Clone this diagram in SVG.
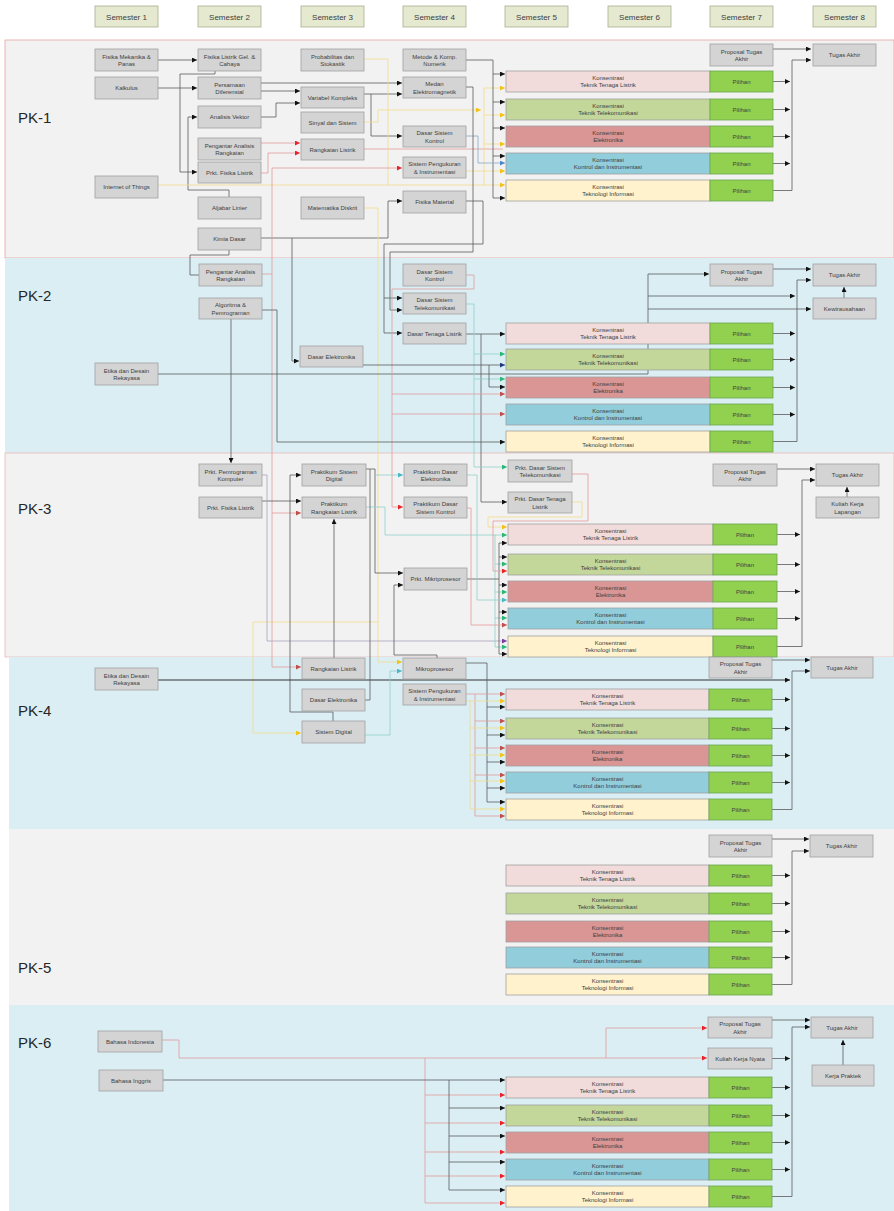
<svg xmlns="http://www.w3.org/2000/svg" width="894" height="1211" viewBox="0 0 894 1211">
<defs>
<style>
.bg{fill:#f2f2f2}
.bb{fill:#daeef3}
.hd rect{fill:#e4e9d0;stroke:#a7ae8c;stroke-width:0.8}
.hd text{font-family:"Liberation Sans",Arial,sans-serif;font-size:8px;fill:#404040;text-anchor:middle}
.n rect{fill:#d4d4d4;stroke:#a0a0a0;stroke-width:0.8}
.n text,.k text{font-family:"Liberation Sans",Arial,sans-serif;font-size:6px;fill:#404040;text-anchor:middle}
.k rect{stroke:#a0a0a0;stroke-width:0.8}
.k rect.p{fill:#92d050;stroke:#6aa84f}
.tl{fill:#f2dcdb}.tk{fill:#c4d79b}.el{fill:#da9694}.ki{fill:#92cddc}.ti{fill:#fff2cc}
.pk{font-family:"Liberation Sans",Arial,sans-serif;font-size:15px;fill:#262626}
.w{fill:none;stroke:#5a5a5a;stroke-width:0.8}
.wd{fill:none;stroke:#333;stroke-width:1}
.wr{fill:none;stroke:#e49a9a;stroke-width:0.8}
.wy{fill:none;stroke:#f3dc8a;stroke-width:0.8}
.wt{fill:none;stroke:#8fd0cc;stroke-width:0.8}
.wp{fill:none;stroke:#a9a2c0;stroke-width:0.8}
.wb{fill:none;stroke:#8aa6c8;stroke-width:0.8}
</style>
<marker id="ab" viewBox="0 0 10 10" refX="10" refY="5" markerWidth="5" markerHeight="5" markerUnits="userSpaceOnUse" orient="auto"><path d="M0,0L10,5L0,10z" fill="#111"/></marker>
<marker id="ar" viewBox="0 0 10 10" refX="10" refY="5" markerWidth="5" markerHeight="5" markerUnits="userSpaceOnUse" orient="auto"><path d="M0,0L10,5L0,10z" fill="#e8242a"/></marker>
<marker id="ard" viewBox="0 0 10 10" refX="10" refY="5" markerWidth="5" markerHeight="5" markerUnits="userSpaceOnUse" orient="auto"><path d="M0,0L10,5L0,10z" fill="#c0504d"/></marker>
<marker id="ay" viewBox="0 0 10 10" refX="10" refY="5" markerWidth="5" markerHeight="5" markerUnits="userSpaceOnUse" orient="auto"><path d="M0,0L10,5L0,10z" fill="#f2c21b"/></marker>
<marker id="ag" viewBox="0 0 10 10" refX="10" refY="5" markerWidth="5" markerHeight="5" markerUnits="userSpaceOnUse" orient="auto"><path d="M0,0L10,5L0,10z" fill="#2bb673"/></marker>
<marker id="at" viewBox="0 0 10 10" refX="10" refY="5" markerWidth="5" markerHeight="5" markerUnits="userSpaceOnUse" orient="auto"><path d="M0,0L10,5L0,10z" fill="#4bb8c8"/></marker>
<marker id="abl" viewBox="0 0 10 10" refX="10" refY="5" markerWidth="5" markerHeight="5" markerUnits="userSpaceOnUse" orient="auto"><path d="M0,0L10,5L0,10z" fill="#4a86c8"/></marker>
<marker id="an" viewBox="0 0 10 10" refX="10" refY="5" markerWidth="5" markerHeight="5" markerUnits="userSpaceOnUse" orient="auto"><path d="M0,0L10,5L0,10z" fill="#1f3a80"/></marker>
<marker id="ap" viewBox="0 0 10 10" refX="10" refY="5" markerWidth="5" markerHeight="5" markerUnits="userSpaceOnUse" orient="auto"><path d="M0,0L10,5L0,10z" fill="#7a3ea0"/></marker>
</defs>
<rect width="894" height="1211" fill="#ffffff"/>
<g id="bands">
<rect class="bg" x="5" y="40" width="889" height="218" stroke="#e8a3a3" stroke-width="0.8"/>
<rect class="bb" x="5" y="258" width="889" height="195"/>
<rect class="bg" x="5" y="453" width="889" height="204" stroke="#e8b8b8" stroke-width="0.8"/>
<rect class="bb" x="9" y="657" width="885" height="172"/>
<rect class="bg" x="9" y="829" width="885" height="176"/>
<rect class="bb" x="9" y="1005" width="885" height="206"/>
<text class="pk" x="18" y="123">PK-1</text>
<text class="pk" x="18" y="301">PK-2</text>
<text class="pk" x="18" y="514">PK-3</text>
<text class="pk" x="18" y="716">PK-4</text>
<text class="pk" x="18" y="973">PK-5</text>
<text class="pk" x="18" y="1048">PK-6</text>
</g>
<g id="headers" class="hd">
<g id="sem1"><rect x="95" y="6" width="63" height="21"/><text x="126.5" y="19.5">Semester 1</text></g>
<g id="sem2"><rect x="198" y="6" width="63" height="21"/><text x="229.5" y="19.5">Semester 2</text></g>
<g id="sem3"><rect x="301" y="6" width="63" height="21"/><text x="332.5" y="19.5">Semester 3</text></g>
<g id="sem4"><rect x="403" y="6" width="63" height="21"/><text x="434.5" y="19.5">Semester 4</text></g>
<g id="sem5"><rect x="505" y="6" width="63" height="21"/><text x="536.5" y="19.5">Semester 5</text></g>
<g id="sem6"><rect x="608" y="6" width="63" height="21"/><text x="639.5" y="19.5">Semester 6</text></g>
<g id="sem7"><rect x="710" y="6" width="63" height="21"/><text x="741.5" y="19.5">Semester 7</text></g>
<g id="sem8"><rect x="813" y="6" width="63" height="21"/><text x="844.5" y="19.5">Semester 8</text></g>
</g>
<g id="connectors">
<!-- PK-1 -->
<path class="w" d="M158,60H197" marker-end="url(#ab)"/>
<path class="w" d="M158,88H197" marker-end="url(#ab)"/>
<path class="w" d="M215,71V74H180V172H197" marker-end="url(#ab)"/>
<path class="w" d="M229,197V190H188V117H197" marker-end="url(#ab)"/>
<path class="w" d="M261,83H402" marker-end="url(#ab)"/>
<path class="w" d="M261,91H300" marker-end="url(#ab)"/>
<path class="w" d="M261,117H276V103H300" marker-end="url(#ab)"/>
<path class="w" d="M363,94H402" marker-end="url(#ab)"/>
<path class="w" d="M371,94V136H402" marker-end="url(#ab)"/>
<path class="wr" d="M261,143H300" marker-end="url(#ar)"/>
<path class="wr" d="M261,173H268V153H300" marker-end="url(#ar)"/>
<path class="wr" d="M363,149H503"/>
<path class="wy" d="M158,185H505" marker-end="url(#ay)"/>
<path class="wy" d="M363,59H388V185"/>
<path class="wy" d="M363,122H378V110H481" marker-end="url(#ay)"/>
<path class="wy" d="M484,88V185"/>
<path class="wy" d="M484,88H505" marker-end="url(#ay)"/>
<path class="wy" d="M484,115H505" marker-end="url(#ay)"/>
<path class="wy" d="M484,144H505" marker-end="url(#ay)"/>
<path class="wy" d="M466,171H505" marker-end="url(#ay)"/>
<path class="w" d="M466,60H493V198H505" marker-end="url(#ab)"/>
<path class="w" d="M493,74H505" marker-end="url(#ab)"/>
<path class="w" d="M493,102H505" marker-end="url(#ab)"/>
<path class="w" d="M493,128H505" marker-end="url(#ab)"/>
<path class="w" d="M493,156H505" marker-end="url(#ab)"/>
<path class="wb" d="M466,136H478V163H505" marker-end="url(#abl)"/>
<path class="w" d="M466,87H473V252H390V310H402" marker-end="url(#ab)"/>
<path class="w" d="M466,201H483V244H384V333H402" marker-end="url(#ab)"/>
<path class="w" d="M384,298H402" marker-end="url(#ab)"/>
<path class="w" d="M261,238H388V201H402" marker-end="url(#ab)"/>
<path class="w" d="M292,238V361H299" marker-end="url(#ab)"/>
<path class="w" d="M229,250V255H190V275H199"/>
<path class="wy" d="M363,208H378V662H402" marker-end="url(#ay)"/>
<path class="wy" d="M378,622H253V733H301" marker-end="url(#ay)"/>
<path class="wr" d="M262,274H272V168H402" marker-end="url(#ar)"/>
<path class="wr" d="M272,274V667H301" marker-end="url(#ard)"/>
<path class="wr" d="M272,513H301" marker-end="url(#ard)"/>
<path class="w" d="M773,49H811" marker-end="url(#ab)"/>
<path class="w" d="M773,81.5H790" marker-end="url(#ab)"/>
<path class="w" d="M773,109.5H790" marker-end="url(#ab)"/>
<path class="w" d="M773,136.5H790" marker-end="url(#ab)"/>
<path class="w" d="M773,163.5H790" marker-end="url(#ab)"/>
<path class="w" d="M773,190.5H792V60H811" marker-end="url(#ab)"/>
<!-- PK-2 -->
<path class="w" d="M773,269H811" marker-end="url(#ab)"/>
<path class="w" d="M773,333.5H795" marker-end="url(#ab)"/>
<path class="w" d="M773,359.5H795" marker-end="url(#ab)"/>
<path class="w" d="M773,387.5H795" marker-end="url(#ab)"/>
<path class="w" d="M773,414.5H795" marker-end="url(#ab)"/>
<path class="w" d="M773,441.5H797V280H811" marker-end="url(#ab)"/>
<path class="w" d="M844,298V287" marker-end="url(#ab)"/>
<path class="w" d="M158,374H648V274H709" marker-end="url(#ab)"/>
<path class="w" d="M648,296H795" marker-end="url(#ab)"/>
<path class="w" d="M648,309H811" marker-end="url(#ab)"/>
<path class="w" d="M466,334H505" marker-end="url(#ab)"/>
<path class="w" d="M481,334V502H507" marker-end="url(#ab)"/>
<path class="wt" d="M466,304H474V467H507" marker-end="url(#ag)"/>
<path class="wt" d="M474,354H505" marker-end="url(#ag)"/>
<path class="wt" d="M474,379H505" marker-end="url(#ag)"/>
<path class="wr" d="M466,275H474V289H392V507H403" marker-end="url(#ar)"/>
<path class="wr" d="M392,394H505" marker-end="url(#ard)"/>
<path class="wr" d="M392,414H505" marker-end="url(#ard)"/>
<path class="w" d="M363,365H505" marker-end="url(#an)"/>
<path class="w" d="M489,365V387H505" marker-end="url(#ab)"/>
<path class="w" d="M231,319V463" marker-end="url(#ab)"/>
<path class="w" d="M262,310H277V442H505" marker-end="url(#ab)"/>
<!-- PK-3 -->
<path class="w" d="M262,501H301" marker-end="url(#ab)"/>
<path class="wp" d="M262,475H267V641H507" marker-end="url(#ap)"/>
<path class="w" d="M366,469H375V573H403" marker-end="url(#ab)"/>
<path class="wt" d="M375,475H403" marker-end="url(#at)"/>
<path class="wt" d="M366,507H385V535H507" marker-end="url(#ag)"/>
<path class="wt" d="M495,535V647H507" marker-end="url(#ag)"/>
<path class="wt" d="M495,564H507" marker-end="url(#ag)"/>
<path class="wt" d="M495,592H507" marker-end="url(#ag)"/>
<path class="wt" d="M495,618H507" marker-end="url(#ag)"/>
<path class="w" d="M333,721V712H290V475H301" marker-end="url(#ab)"/>
<path class="w" d="M334,658V519" marker-end="url(#ab)"/>
<path class="w" d="M437,658V655H394V585H403" marker-end="url(#ab)"/>
<path class="w" d="M467,579H499"/>
<path class="w" d="M499,543V654H507" marker-end="url(#ab)"/>
<path class="w" d="M499,543H507" marker-end="url(#ab)"/>
<path class="w" d="M499,557H507" marker-end="url(#ab)"/>
<path class="w" d="M499,585H507" marker-end="url(#ab)"/>
<path class="w" d="M499,612H507" marker-end="url(#ab)"/>
<path class="wy" d="M572,502H582V517H488V527H507" marker-end="url(#ay)"/>
<path class="wr" d="M572,474H588V521H493V571H507" marker-end="url(#ar)"/>
<path class="wt" d="M467,475H477V600H507" marker-end="url(#at)"/>
<path class="wr" d="M467,508H471V625H507" marker-end="url(#ard)"/>
<path class="w" d="M777,469H815" marker-end="url(#ab)"/>
<path class="w" d="M777,534.5H800" marker-end="url(#ab)"/>
<path class="w" d="M777,564.5H800" marker-end="url(#ab)"/>
<path class="w" d="M777,591.5H800" marker-end="url(#ab)"/>
<path class="w" d="M777,618.5H800" marker-end="url(#ab)"/>
<path class="w" d="M777,646.5H802V480H815" marker-end="url(#ab)"/>
<path class="w" d="M847,497V487" marker-end="url(#ab)"/>
<!-- PK-4 -->
<path class="wd" d="M158,680H790" marker-end="url(#ab)"/>
<path class="wt" d="M365,735H390V671H402" marker-end="url(#at)"/>
<path class="w" d="M365,700H370V469"/>
<path class="w" d="M466,663H487V802H505" marker-end="url(#ab)"/>
<path class="w" d="M487,707H505" marker-end="url(#ab)"/>
<path class="w" d="M487,735H505" marker-end="url(#ab)"/>
<path class="w" d="M487,762H505" marker-end="url(#ab)"/>
<path class="w" d="M487,788H505" marker-end="url(#ab)"/>
<path class="wr" d="M466,694H505" marker-end="url(#ard)"/>
<path class="wr" d="M475,694V816H505" marker-end="url(#ard)"/>
<path class="wr" d="M475,721H505" marker-end="url(#ard)"/>
<path class="wr" d="M475,748H505" marker-end="url(#ard)"/>
<path class="wr" d="M475,775H505" marker-end="url(#ard)"/>
<path class="wy" d="M466,701H505" marker-end="url(#ay)"/>
<path class="wy" d="M470,701V809H505" marker-end="url(#ay)"/>
<path class="wy" d="M470,728H505" marker-end="url(#ay)"/>
<path class="wy" d="M470,755H505" marker-end="url(#ay)"/>
<path class="wy" d="M470,781H505" marker-end="url(#ay)"/>
<path class="w" d="M772,660H810" marker-end="url(#ab)"/>
<path class="w" d="M772,699.5H790" marker-end="url(#ab)"/>
<path class="w" d="M772,728.5H790" marker-end="url(#ab)"/>
<path class="w" d="M772,755.5H790" marker-end="url(#ab)"/>
<path class="w" d="M772,782.5H790" marker-end="url(#ab)"/>
<path class="w" d="M772,809.5H792V671H810" marker-end="url(#ab)"/>
<!-- PK-5 -->
<path class="w" d="M772,839H809" marker-end="url(#ab)"/>
<path class="w" d="M772,875.5H790" marker-end="url(#ab)"/>
<path class="w" d="M772,903.5H790" marker-end="url(#ab)"/>
<path class="w" d="M772,931.5H790" marker-end="url(#ab)"/>
<path class="w" d="M772,957.5H790" marker-end="url(#ab)"/>
<path class="w" d="M772,984.5H792V851H809" marker-end="url(#ab)"/>
<!-- PK-6 -->
<path class="wr" d="M162,1040H179V1058H707" marker-end="url(#ar)"/>
<path class="wr" d="M606,1058V1028H707" marker-end="url(#ar)"/>
<path class="wr" d="M425,1058V1203H505" marker-end="url(#ar)"/>
<path class="wr" d="M425,1095H505" marker-end="url(#ar)"/>
<path class="wr" d="M425,1123H505" marker-end="url(#ar)"/>
<path class="wr" d="M425,1152H505" marker-end="url(#ar)"/>
<path class="wr" d="M425,1176H505" marker-end="url(#ar)"/>
<path class="w" d="M163,1080H505" marker-end="url(#ab)"/>
<path class="w" d="M449,1080V1190H505" marker-end="url(#ab)"/>
<path class="w" d="M449,1108H505" marker-end="url(#ab)"/>
<path class="w" d="M449,1136H505" marker-end="url(#ab)"/>
<path class="w" d="M449,1162H505" marker-end="url(#ab)"/>
<path class="w" d="M772,1020H810" marker-end="url(#ab)"/>
<path class="w" d="M772,1058.5H790" marker-end="url(#ab)"/>
<path class="w" d="M772,1087.5H790" marker-end="url(#ab)"/>
<path class="w" d="M772,1115.5H790" marker-end="url(#ab)"/>
<path class="w" d="M772,1142.5H790" marker-end="url(#ab)"/>
<path class="w" d="M772,1169.5H790" marker-end="url(#ab)"/>
<path class="w" d="M772,1196.5H792V1027H810" marker-end="url(#ab)"/>
<path class="w" d="M843,1065V1040" marker-end="url(#ab)"/>
</g>
<g id="nodes-pk1">
<g id="p1-fmp" class="n"><rect x="95" y="49" width="63" height="22"/><text x="126.5" y="58.5">Fisika Mekanika &amp;</text><text x="126.5" y="66">Panas</text></g>
<g id="p1-kal" class="n"><rect x="95" y="77" width="63" height="22"/><text x="126.5" y="90.2">Kalkulus</text></g>
<g id="p1-iot" class="n"><rect x="95" y="176" width="63" height="22"/><text x="126.5" y="189.2">Internet of Things</text></g>
<g id="p1-flgc" class="n"><rect x="198" y="49" width="63" height="22"/><text x="229.5" y="58.5">Fisika Listrik Gel. &amp;</text><text x="229.5" y="66">Cahaya</text></g>
<g id="p1-pd" class="n"><rect x="198" y="77" width="63" height="22"/><text x="229.5" y="86.5">Persamaan</text><text x="229.5" y="94">Diferensial</text></g>
<g id="p1-av" class="n"><rect x="198" y="106" width="63" height="22"/><text x="229.5" y="119.2">Analisis Vektor</text></g>
<g id="p1-par" class="n"><rect x="198" y="138" width="63" height="22"/><text x="229.5" y="147.5">Pengantar Analisis</text><text x="229.5" y="155">Rangkaian</text></g>
<g id="p1-pfl" class="n"><rect x="198" y="162" width="63" height="21"/><text x="229.5" y="174.7">Prkt. Fisika Listrik</text></g>
<g id="p1-al" class="n"><rect x="198" y="197" width="63" height="22"/><text x="229.5" y="210.2">Aljabar Linier</text></g>
<g id="p1-kd" class="n"><rect x="198" y="228" width="63" height="22"/><text x="229.5" y="241.2">Kimia Dasar</text></g>
<g id="p1-ps" class="n"><rect x="301" y="49" width="63" height="22"/><text x="332.5" y="58.5">Probabilitas dan</text><text x="332.5" y="66">Stokastik</text></g>
<g id="p1-vk" class="n"><rect x="301" y="87" width="63" height="21"/><text x="332.5" y="99.7">Variabel Kompleks</text></g>
<g id="p1-ss" class="n"><rect x="301" y="112" width="63" height="21"/><text x="332.5" y="124.7">Sinyal dan Sistem</text></g>
<g id="p1-rl" class="n"><rect x="301" y="139" width="63" height="21"/><text x="332.5" y="151.7">Rangkaian Listrik</text></g>
<g id="p1-md" class="n"><rect x="301" y="197" width="63" height="22"/><text x="332.5" y="210.2">Matematika Diskrit</text></g>
<g id="p1-mkn" class="n"><rect x="403" y="49" width="63" height="22"/><text x="434.5" y="58.5">Metode &amp; Komp.</text><text x="434.5" y="66">Numerik</text></g>
<g id="p1-me" class="n"><rect x="403" y="77" width="63" height="21"/><text x="434.5" y="86">Medan</text><text x="434.5" y="93.5">Elektromagnetik</text></g>
<g id="p1-dsk" class="n"><rect x="403" y="126" width="63" height="21"/><text x="434.5" y="135">Dasar Sistem</text><text x="434.5" y="142.5">Kontrol</text></g>
<g id="p1-spi" class="n"><rect x="403" y="157" width="63" height="21"/><text x="434.5" y="166">Sistem Pengukuran</text><text x="434.5" y="173.5">&amp; Instrumentasi</text></g>
<g id="p1-fm" class="n"><rect x="403" y="191" width="63" height="22"/><text x="434.5" y="204.2">Fisika Material</text></g>
<g id="p1-pta" class="n"><rect x="710" y="44" width="63" height="22"/><text x="741.5" y="53.5">Proposal Tugas</text><text x="741.5" y="61">Akhir</text></g>
<g id="p1-ta" class="n"><rect x="813" y="44" width="63" height="22"/><text x="844.5" y="57.2">Tugas Akhir</text></g>
<g id="p1-k-tl" class="k"><rect class="tl" x="506" y="71" width="204" height="21"/><rect class="p" x="710" y="71" width="63" height="21"/><text x="608" y="79.5">Konsentrasi</text><text x="608" y="87">Teknik Tenaga Listrik</text><text x="741.5" y="83.7">Pilihan</text></g>
<g id="p1-k-tk" class="k"><rect class="tk" x="506" y="99" width="204" height="21"/><rect class="p" x="710" y="99" width="63" height="21"/><text x="608" y="107.5">Konsentrasi</text><text x="608" y="115">Teknik Telekomunikasi</text><text x="741.5" y="111.7">Pilihan</text></g>
<g id="p1-k-el" class="k"><rect class="el" x="506" y="126" width="204" height="21"/><rect class="p" x="710" y="126" width="63" height="21"/><text x="608" y="134.5">Konsentrasi</text><text x="608" y="142">Elektronika</text><text x="741.5" y="138.7">Pilihan</text></g>
<g id="p1-k-ki" class="k"><rect class="ki" x="506" y="153" width="204" height="21"/><rect class="p" x="710" y="153" width="63" height="21"/><text x="608" y="161.5">Konsentrasi</text><text x="608" y="169">Kontrol dan Instrumentasi</text><text x="741.5" y="165.7">Pilihan</text></g>
<g id="p1-k-ti" class="k"><rect class="ti" x="506" y="180" width="204" height="21"/><rect class="p" x="710" y="180" width="63" height="21"/><text x="608" y="188.5">Konsentrasi</text><text x="608" y="196">Teknologi Informasi</text><text x="741.5" y="192.7">Pilihan</text></g>
</g>
<g id="nodes-pk2">
<g id="p2-par" class="n"><rect x="199" y="264" width="63" height="22"/><text x="230.5" y="273.5">Pengantar Analisis</text><text x="230.5" y="281">Rangkaian</text></g>
<g id="p2-ap" class="n"><rect x="199" y="298" width="63" height="21"/><text x="230.5" y="307">Algoritma &amp;</text><text x="230.5" y="314.5">Pemrograman</text></g>
<g id="p2-edr" class="n"><rect x="95" y="363" width="63" height="22"/><text x="126.5" y="372.5">Etika dan Desain</text><text x="126.5" y="380">Rekayasa</text></g>
<g id="p2-de" class="n"><rect x="300" y="346" width="63" height="21"/><text x="331.5" y="358.7">Dasar Elektronika</text></g>
<g id="p2-dsk" class="n"><rect x="403" y="264" width="63" height="22"/><text x="434.5" y="273.5">Dasar Sistem</text><text x="434.5" y="281">Kontrol</text></g>
<g id="p2-dst" class="n"><rect x="403" y="293" width="63" height="21"/><text x="434.5" y="302">Dasar Sistem</text><text x="434.5" y="309.5">Telekomunikasi</text></g>
<g id="p2-dtl" class="n"><rect x="403" y="323" width="63" height="21"/><text x="434.5" y="335.7">Dasar Tenaga Listrik</text></g>
<g id="p2-pta" class="n"><rect x="710" y="264" width="63" height="22"/><text x="741.5" y="273.5">Proposal Tugas</text><text x="741.5" y="281">Akhir</text></g>
<g id="p2-ta" class="n"><rect x="813" y="264" width="63" height="22"/><text x="844.5" y="277.2">Tugas Akhir</text></g>
<g id="p2-kw" class="n"><rect x="813" y="298" width="63" height="21"/><text x="844.5" y="310.7">Kewirausahaan</text></g>
<g id="p2-k-tl" class="k"><rect class="tl" x="506" y="323" width="204" height="21"/><rect class="p" x="710" y="323" width="63" height="21"/><text x="608" y="331.5">Konsentrasi</text><text x="608" y="339">Teknik Tenaga Listrik</text><text x="741.5" y="335.7">Pilihan</text></g>
<g id="p2-k-tk" class="k"><rect class="tk" x="506" y="349" width="204" height="21"/><rect class="p" x="710" y="349" width="63" height="21"/><text x="608" y="357.5">Konsentrasi</text><text x="608" y="365">Teknik Telekomunikasi</text><text x="741.5" y="361.7">Pilihan</text></g>
<g id="p2-k-el" class="k"><rect class="el" x="506" y="377" width="204" height="21"/><rect class="p" x="710" y="377" width="63" height="21"/><text x="608" y="385.5">Konsentrasi</text><text x="608" y="393">Elektronika</text><text x="741.5" y="389.7">Pilihan</text></g>
<g id="p2-k-ki" class="k"><rect class="ki" x="506" y="404" width="204" height="21"/><rect class="p" x="710" y="404" width="63" height="21"/><text x="608" y="412.5">Konsentrasi</text><text x="608" y="420">Kontrol dan Instrumentasi</text><text x="741.5" y="416.7">Pilihan</text></g>
<g id="p2-k-ti" class="k"><rect class="ti" x="506" y="431" width="204" height="21"/><rect class="p" x="710" y="431" width="63" height="21"/><text x="608" y="439.5">Konsentrasi</text><text x="608" y="447">Teknologi Informasi</text><text x="741.5" y="443.7">Pilihan</text></g>
</g>
<g id="nodes-pk3">
<g id="p3-ppk" class="n"><rect x="199" y="464" width="63" height="22"/><text x="230.5" y="473.5">Prkt. Pemrograman</text><text x="230.5" y="481">Komputer</text></g>
<g id="p3-pfl" class="n"><rect x="199" y="497" width="63" height="21"/><text x="230.5" y="509.7">Prkt. Fisika Listrik</text></g>
<g id="p3-psd" class="n"><rect x="302" y="464" width="64" height="22"/><text x="334" y="473.5">Praktikum Sistem</text><text x="334" y="481">Digital</text></g>
<g id="p3-prl" class="n"><rect x="302" y="497" width="64" height="21"/><text x="334" y="506">Praktikum</text><text x="334" y="513.5">Rangkaian Listrik</text></g>
<g id="p3-pde" class="n"><rect x="404" y="464" width="63" height="22"/><text x="435.5" y="473.5">Praktikum Dasar</text><text x="435.5" y="481">Elektronika</text></g>
<g id="p3-pdsk" class="n"><rect x="404" y="497" width="63" height="21"/><text x="435.5" y="506">Praktikum Dasar</text><text x="435.5" y="513.5">Sistem Kontrol</text></g>
<g id="p3-pm" class="n"><rect x="404" y="568" width="63" height="22"/><text x="435.5" y="581.2">Prkt. Mikriprosesor</text></g>
<g id="p3-pdst" class="n"><rect x="508" y="460" width="64" height="22"/><text x="540" y="469.5">Prkt. Dasar Sistem</text><text x="540" y="477">Telekomunikasi</text></g>
<g id="p3-pdtl" class="n"><rect x="508" y="492" width="64" height="21"/><text x="540" y="501">Prkt. Dasar Tenaga</text><text x="540" y="508.5">Listrik</text></g>
<g id="p3-pta" class="n"><rect x="713" y="464" width="64" height="22"/><text x="745" y="473.5">Proposal Tugas</text><text x="745" y="481">Akhir</text></g>
<g id="p3-ta" class="n"><rect x="816" y="464" width="63" height="22"/><text x="847.5" y="477.2">Tugas Akhir</text></g>
<g id="p3-kkl" class="n"><rect x="816" y="497" width="63" height="21"/><text x="847.5" y="506">Kuliah Kerja</text><text x="847.5" y="513.5">Lapangan</text></g>
<g id="p3-k-tl" class="k"><rect class="tl" x="508" y="524" width="205" height="21"/><rect class="p" x="713" y="524" width="64" height="21"/><text x="610.5" y="532.5">Konsentrasi</text><text x="610.5" y="540">Teknik Tenaga Listrik</text><text x="745" y="536.7">Pilihan</text></g>
<g id="p3-k-tk" class="k"><rect class="tk" x="508" y="554" width="205" height="21"/><rect class="p" x="713" y="554" width="64" height="21"/><text x="610.5" y="562.5">Konsentrasi</text><text x="610.5" y="570">Teknik Telekomunikasi</text><text x="745" y="566.7">Pilihan</text></g>
<g id="p3-k-el" class="k"><rect class="el" x="508" y="581" width="205" height="21"/><rect class="p" x="713" y="581" width="64" height="21"/><text x="610.5" y="589.5">Konsentrasi</text><text x="610.5" y="597">Elektronika</text><text x="745" y="593.7">Pilihan</text></g>
<g id="p3-k-ki" class="k"><rect class="ki" x="508" y="608" width="205" height="21"/><rect class="p" x="713" y="608" width="64" height="21"/><text x="610.5" y="616.5">Konsentrasi</text><text x="610.5" y="624">Kontrol dan Instrumentasi</text><text x="745" y="620.7">Pilihan</text></g>
<g id="p3-k-ti" class="k"><rect class="ti" x="508" y="636" width="205" height="21"/><rect class="p" x="713" y="636" width="64" height="21"/><text x="610.5" y="644.5">Konsentrasi</text><text x="610.5" y="652">Teknologi Informasi</text><text x="745" y="648.7">Pilihan</text></g>
</g>
<g id="nodes-pk4">
<g id="p4-edr" class="n"><rect x="95" y="668" width="63" height="22"/><text x="126.5" y="677.5">Etika dan Desain</text><text x="126.5" y="685">Rekayasa</text></g>
<g id="p4-rl" class="n"><rect x="302" y="658" width="63" height="21"/><text x="333.5" y="670.7">Rangkaian Listrik</text></g>
<g id="p4-de" class="n"><rect x="302" y="689" width="63" height="22"/><text x="333.5" y="702.2">Dasar Elektronika</text></g>
<g id="p4-sd" class="n"><rect x="302" y="721" width="63" height="22"/><text x="333.5" y="734.2">Sistem Digital</text></g>
<g id="p4-mp" class="n"><rect x="403" y="658" width="63" height="21"/><text x="434.5" y="670.7">Mikroprosesor</text></g>
<g id="p4-spi" class="n"><rect x="403" y="684" width="63" height="21"/><text x="434.5" y="693">Sistem Pengukuran</text><text x="434.5" y="700.5">&amp; Instrumentasi</text></g>
<g id="p4-pta" class="n"><rect x="709" y="657" width="63" height="21"/><text x="740.5" y="666">Proposal Tugas</text><text x="740.5" y="673.5">Akhir</text></g>
<g id="p4-ta" class="n"><rect x="811" y="657" width="62" height="21"/><text x="842" y="669.7">Tugas Akhir</text></g>
<g id="p4-k-tl" class="k"><rect class="tl" x="506" y="689" width="203" height="21"/><rect class="p" x="709" y="689" width="63" height="21"/><text x="607.5" y="697.5">Konsentrasi</text><text x="607.5" y="705">Teknik Tenaga Listrik</text><text x="740.5" y="701.7">Pilihan</text></g>
<g id="p4-k-tk" class="k"><rect class="tk" x="506" y="718" width="203" height="21"/><rect class="p" x="709" y="718" width="63" height="21"/><text x="607.5" y="726.5">Konsentrasi</text><text x="607.5" y="734">Teknik Telekomunikasi</text><text x="740.5" y="730.7">Pilihan</text></g>
<g id="p4-k-el" class="k"><rect class="el" x="506" y="745" width="203" height="21"/><rect class="p" x="709" y="745" width="63" height="21"/><text x="607.5" y="753.5">Konsentrasi</text><text x="607.5" y="761">Elektronika</text><text x="740.5" y="757.7">Pilihan</text></g>
<g id="p4-k-ki" class="k"><rect class="ki" x="506" y="772" width="203" height="21"/><rect class="p" x="709" y="772" width="63" height="21"/><text x="607.5" y="780.5">Konsentrasi</text><text x="607.5" y="788">Kontrol dan Instrumentasi</text><text x="740.5" y="784.7">Pilihan</text></g>
<g id="p4-k-ti" class="k"><rect class="ti" x="506" y="799" width="203" height="21"/><rect class="p" x="709" y="799" width="63" height="21"/><text x="607.5" y="807.5">Konsentrasi</text><text x="607.5" y="815">Teknologi Informasi</text><text x="740.5" y="811.7">Pilihan</text></g>
</g>
<g id="nodes-pk5">
<g id="p5-pta" class="n"><rect x="709" y="835" width="63" height="22"/><text x="740.5" y="844.5">Proposal Tugas</text><text x="740.5" y="852">Akhir</text></g>
<g id="p5-ta" class="n"><rect x="810" y="835" width="63" height="22"/><text x="841.5" y="848.2">Tugas Akhir</text></g>
<g id="p5-k-tl" class="k"><rect class="tl" x="506" y="865" width="203" height="21"/><rect class="p" x="709" y="865" width="63" height="21"/><text x="607.5" y="873.5">Konsentrasi</text><text x="607.5" y="881">Teknik Tenaga Listrik</text><text x="740.5" y="877.7">Pilihan</text></g>
<g id="p5-k-tk" class="k"><rect class="tk" x="506" y="893" width="203" height="21"/><rect class="p" x="709" y="893" width="63" height="21"/><text x="607.5" y="901.5">Konsentrasi</text><text x="607.5" y="909">Teknik Telekomunikasi</text><text x="740.5" y="905.7">Pilihan</text></g>
<g id="p5-k-el" class="k"><rect class="el" x="506" y="921" width="203" height="21"/><rect class="p" x="709" y="921" width="63" height="21"/><text x="607.5" y="929.5">Konsentrasi</text><text x="607.5" y="937">Elektronika</text><text x="740.5" y="933.7">Pilihan</text></g>
<g id="p5-k-ki" class="k"><rect class="ki" x="506" y="947" width="203" height="21"/><rect class="p" x="709" y="947" width="63" height="21"/><text x="607.5" y="955.5">Konsentrasi</text><text x="607.5" y="963">Kontrol dan Instrumentasi</text><text x="740.5" y="959.7">Pilihan</text></g>
<g id="p5-k-ti" class="k"><rect class="ti" x="506" y="974" width="203" height="21"/><rect class="p" x="709" y="974" width="63" height="21"/><text x="607.5" y="982.5">Konsentrasi</text><text x="607.5" y="990">Teknologi Informasi</text><text x="740.5" y="986.7">Pilihan</text></g>
</g>
<g id="nodes-pk6">
<g id="p6-bi" class="n"><rect x="98" y="1031" width="64" height="21"/><text x="130" y="1043.7">Bahasa Indonesia</text></g>
<g id="p6-bing" class="n"><rect x="99" y="1070" width="64" height="21"/><text x="131" y="1082.7">Bahasa Inggris</text></g>
<g id="p6-pta" class="n"><rect x="708" y="1017" width="64" height="21"/><text x="740" y="1026">Proposal Tugas</text><text x="740" y="1033.5">Akhir</text></g>
<g id="p6-kkn" class="n"><rect x="708" y="1048" width="64" height="21"/><text x="740" y="1060.7">Kuliah Kerja Nyata</text></g>
<g id="p6-ta" class="n"><rect x="811" y="1017" width="62" height="21"/><text x="842" y="1029.7">Tugas Akhir</text></g>
<g id="p6-kp" class="n"><rect x="812" y="1065" width="62" height="21"/><text x="843" y="1077.7">Kerja Praktek</text></g>
<g id="p6-k-tl" class="k"><rect class="tl" x="506" y="1077" width="203" height="21"/><rect class="p" x="709" y="1077" width="63" height="21"/><text x="607.5" y="1085.5">Konsentrasi</text><text x="607.5" y="1093">Teknik Tenaga Listrik</text><text x="740.5" y="1089.7">Pilihan</text></g>
<g id="p6-k-tk" class="k"><rect class="tk" x="506" y="1105" width="203" height="21"/><rect class="p" x="709" y="1105" width="63" height="21"/><text x="607.5" y="1113.5">Konsentrasi</text><text x="607.5" y="1121">Teknik Telekomunikasi</text><text x="740.5" y="1117.7">Pilihan</text></g>
<g id="p6-k-el" class="k"><rect class="el" x="506" y="1132" width="203" height="21"/><rect class="p" x="709" y="1132" width="63" height="21"/><text x="607.5" y="1140.5">Konsentrasi</text><text x="607.5" y="1148">Elektronika</text><text x="740.5" y="1144.7">Pilihan</text></g>
<g id="p6-k-ki" class="k"><rect class="ki" x="506" y="1159" width="203" height="21"/><rect class="p" x="709" y="1159" width="63" height="21"/><text x="607.5" y="1167.5">Konsentrasi</text><text x="607.5" y="1175">Kontrol dan Instrumentasi</text><text x="740.5" y="1171.7">Pilihan</text></g>
<g id="p6-k-ti" class="k"><rect class="ti" x="506" y="1186" width="203" height="21"/><rect class="p" x="709" y="1186" width="63" height="21"/><text x="607.5" y="1194.5">Konsentrasi</text><text x="607.5" y="1202">Teknologi Informasi</text><text x="740.5" y="1198.7">Pilihan</text></g>
</g>
</svg>
